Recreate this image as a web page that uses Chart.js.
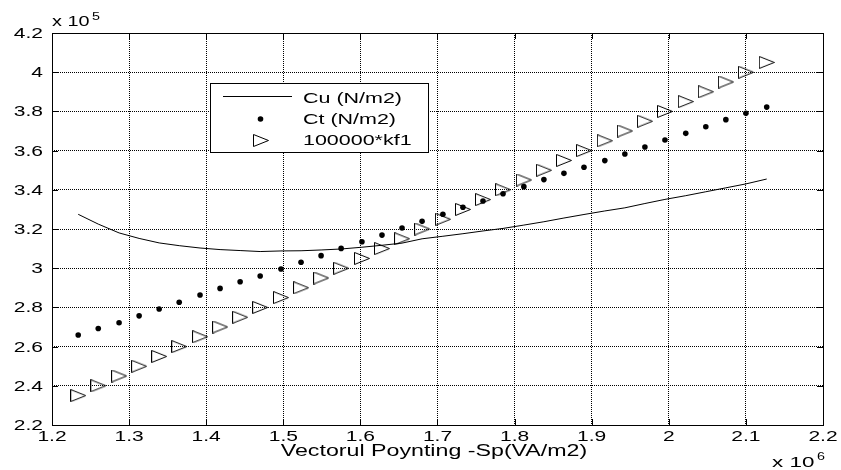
<!DOCTYPE html>
<html>
<head>
<meta charset="utf-8">
<script src="https://cdn.jsdelivr.net/npm/chart.js@4.4.0/dist/chart.umd.min.js"></script>
<style>
  html, body { margin: 0; padding: 0; background: #fff; }
  #wrap { width: 841px; height: 470px; }
</style>
</head>
<body>
<div id="wrap"><canvas id="chart" width="841" height="470"></canvas></div>
<script>
// Poynting vector Sp (x 10^6 VA/m2)
const sp = [1.234, 1.260, 1.287, 1.313, 1.339, 1.365, 1.392, 1.418, 1.444, 1.470,
            1.497, 1.523, 1.549, 1.575, 1.602, 1.628, 1.654, 1.680, 1.707, 1.733,
            1.759, 1.785, 1.812, 1.838, 1.864, 1.890, 1.917, 1.943, 1.969, 1.995,
            2.022, 2.048, 2.074, 2.100, 2.127];
// values in units of 10^5
const cu = [3.275, 3.225, 3.180, 3.152, 3.129, 3.115, 3.103, 3.095, 3.090, 3.085,
            3.088, 3.089, 3.093, 3.098, 3.107, 3.117, 3.128, 3.150, 3.163, 3.176,
            3.190, 3.203, 3.220, 3.237, 3.256, 3.274, 3.292, 3.308, 3.330, 3.351,
            3.370, 3.390, 3.410, 3.430, 3.455];
const ct = [2.659, 2.692, 2.722, 2.757, 2.792, 2.826, 2.863, 2.897, 2.931, 2.960,
            2.996, 3.030, 3.064, 3.101, 3.135, 3.169, 3.205, 3.239, 3.275, 3.311,
            3.343, 3.380, 3.416, 3.452, 3.484, 3.515, 3.549, 3.583, 3.618, 3.654,
            3.688, 3.722, 3.758, 3.790, 3.822];
const kf1 = [2.35, 2.40, 2.45, 2.50, 2.55, 2.60, 2.65, 2.70, 2.75, 2.80,
             2.85, 2.90, 2.95, 3.00, 3.05, 3.10, 3.15, 3.20, 3.25, 3.30,
             3.35, 3.40, 3.45, 3.50, 3.55, 3.60, 3.65, 3.70, 3.75, 3.80,
             3.85, 3.90, 3.95, 4.00, 4.05];

const xTicks = [1.2, 1.3, 1.4, 1.5, 1.6, 1.7, 1.8, 1.9, 2.0, 2.1, 2.2];
const yTicks = [2.2, 2.4, 2.6, 2.8, 3.0, 3.2, 3.4, 3.6, 3.8, 4.0, 4.2];
const seriesNames = ['Cu (N/m2)', 'Ct (N/m2)', '100000*kf1'];
const xTitle = 'Vectorul Poynting -Sp(VA/m2)';

const FONT = 'Liberation Sans, Arial, Helvetica, sans-serif';
const STRETCH = 1.5;   // the original figure text is wide
const fmt = v => String(Math.round(v * 10) / 10);

// hollow right-pointing triangle, like matlab '>'
function makeTriangle() {
    const c = document.createElement('canvas');
    c.width = 16; c.height = 13;
    const g = c.getContext('2d');
    g.strokeStyle = '#000';
    g.lineWidth = 1;
    g.beginPath();
    g.moveTo(0.5, 0.5);
    g.lineTo(15.5, 6.5);
    g.lineTo(0.5, 12.5);
    g.closePath();
    g.stroke();
    return c;
}
const triangle = makeTriangle();

const pts = ys => sp.map((x, i) => ({ x: x, y: ys[i] }));

function wideText(ctx, text, x, y, align, size, sx) {
    ctx.save();
    ctx.translate(x, y);
    ctx.scale(sx || STRETCH, 1);
    ctx.font = size + 'px ' + FONT;
    ctx.textAlign = align;
    ctx.textBaseline = 'alphabetic';
    ctx.fillText(text, 0, 0);
    ctx.restore();
}

const matlabFrame = {
    id: 'matlabFrame',
    afterDraw(chart) {
        const ctx = chart.ctx;
        const a = chart.chartArea;
        const xs = chart.scales.x, ysc = chart.scales.y;
        ctx.save();
        ctx.strokeStyle = '#000';
        ctx.fillStyle = '#000';
        ctx.lineWidth = 1;
        ctx.setLineDash([]);
        // box
        ctx.strokeRect(Math.round(a.left) + 0.5, Math.round(a.top) + 0.5,
                       Math.round(a.right - a.left), Math.round(a.bottom - a.top));
        // inward tick marks
        ctx.beginPath();
        xs.ticks.forEach(t => {
            const px = Math.round(xs.getPixelForValue(t.value)) + 0.5;
            ctx.moveTo(px, a.bottom); ctx.lineTo(px, a.bottom - 6);
            ctx.moveTo(px, a.top); ctx.lineTo(px, a.top + 6);
        });
        ysc.ticks.forEach(t => {
            const py = Math.round(ysc.getPixelForValue(t.value)) + 0.5;
            ctx.moveTo(a.left, py); ctx.lineTo(a.left + 6, py);
            ctx.moveTo(a.right, py); ctx.lineTo(a.right - 6, py);
        });
        ctx.stroke();

        // tick labels
        const ts = 14;
        xs.ticks.forEach(t => {
            wideText(ctx, t.label || fmt(t.value), xs.getPixelForValue(t.value), a.bottom + 16, 'center', ts);
        });
        ysc.ticks.forEach(t => {
            wideText(ctx, t.label || fmt(t.value), a.left - 9, ysc.getPixelForValue(t.value) + 5, 'right', ts);
        });

        // exponent labels
        wideText(ctx, 'x 10', a.left, 26, 'left', 14, 1.42);
        wideText(ctx, '5', 92, 20, 'left', 11, 1.3);
        wideText(ctx, 'x 10', 772, 467, 'left', 14, 1.6);
        wideText(ctx, '6', 817, 460, 'left', 11, 1.3);

        // axis title
        wideText(ctx, xTitle, 434, 456, 'center', 16, 1.45);

        // legend box
        const lx = 210, ly = 83, lw = 218, lh = 69;
        ctx.fillStyle = '#fff';
        ctx.fillRect(lx, ly, lw, lh);
        ctx.strokeRect(lx + 0.5, ly + 0.5, lw, lh);
        ctx.fillStyle = '#000';
        const rows = [96, 119, 140];
        const bases = [103, 124, 145];
        seriesNames.forEach((name, i) => wideText(ctx, name, 303, bases[i], 'left', 14.5, 1.48));
        ctx.beginPath();
        ctx.moveTo(223, rows[0] + 0.5); ctx.lineTo(292, rows[0] + 0.5);
        ctx.stroke();
        ctx.beginPath();
        ctx.arc(260.5, rows[1], 2.8, 0, Math.PI * 2);
        ctx.fill();
        ctx.drawImage(triangle, 253, rows[2] - 6);
        ctx.restore();
    }
};

new Chart(document.getElementById('chart').getContext('2d'), {
    type: 'scatter',
    data: {
        datasets: [{
            label: seriesNames[0],
            data: pts(cu),
            showLine: true,
            borderColor: '#000',
            borderWidth: 1,
            pointRadius: 0,
            tension: 0
        }, {
            label: seriesNames[1],
            data: pts(ct),
            pointRadius: 2.8,
            pointBackgroundColor: '#000',
            pointBorderWidth: 0
        }, {
            label: seriesNames[2],
            data: pts(kf1),
            pointStyle: triangle
        }]
    },
    options: {
        responsive: false,
        animation: false,
        devicePixelRatio: 1,
        layout: { padding: { top: 33, right: 18, left: 0, bottom: 0 } },
        plugins: {
            legend: { display: false },
            tooltip: { enabled: false }
        },
        scales: {
            x: {
                type: 'linear',
                min: 1.2,
                max: 2.2,
                afterBuildTicks: s => { s.ticks = xTicks.map(v => ({ value: v })); },
                afterFit: s => { s.height = 45; },
                grid: { color: '#000', lineWidth: 1, drawTicks: false },
                border: { display: false, dash: [1, 1] },
                ticks: { display: false, autoSkip: false, callback: fmt }
            },
            y: {
                type: 'linear',
                min: 2.2,
                max: 4.2,
                afterBuildTicks: s => { s.ticks = yTicks.map(v => ({ value: v })); },
                afterFit: s => { s.width = 52; },
                grid: { color: '#000', lineWidth: 1, drawTicks: false },
                border: { display: false, dash: [1, 1] },
                ticks: { display: false, autoSkip: false, callback: fmt }
            }
        }
    },
    plugins: [matlabFrame]
});
</script>
</body>
</html>
